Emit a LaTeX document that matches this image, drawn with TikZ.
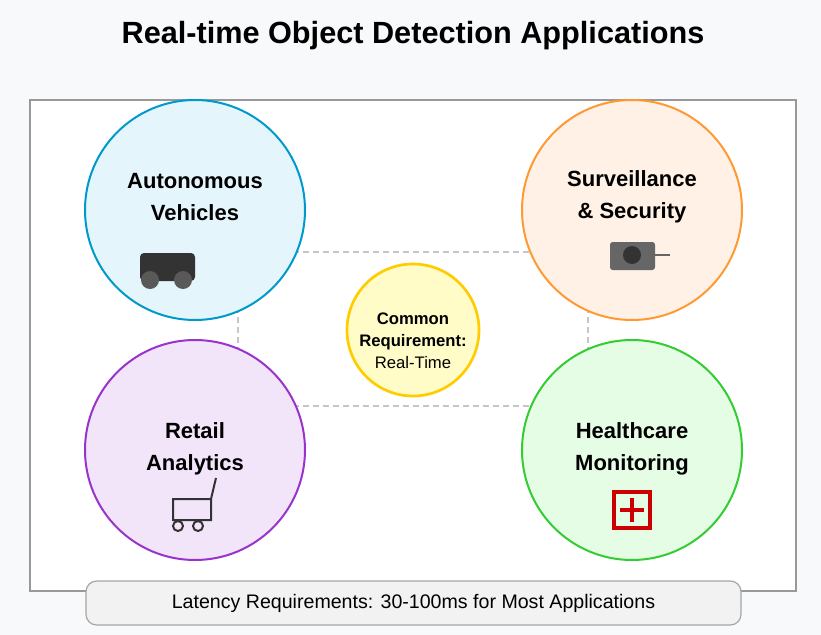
\documentclass[tikz,border=0pt]{standalone}
\usepackage{fontspec}
\setmainfont{Liberation Sans}
\usetikzlibrary{positioning}

\definecolor{pagebg}{HTML}{F8F9FA}
\definecolor{avline}{HTML}{0099CC}
\definecolor{avfill}{HTML}{E5F5FC}
\definecolor{ssline}{HTML}{FF9933}
\definecolor{ssfill}{HTML}{FFF1E5}
\definecolor{raline}{HTML}{9933CC}
\definecolor{rafill}{HTML}{F2E5FA}
\definecolor{hmline}{HTML}{33CC33}
\definecolor{hmfill}{HTML}{E5FCE5}
\definecolor{crline}{HTML}{FFCC00}
\definecolor{crfill}{HTML}{FFFCC8}

\tikzset{
  app/.style={circle, minimum size=220*0.75pt, line width=1.5pt, inner sep=0pt},
  applabel/.style={font=\fontsize{16.5}{24}\selectfont\bfseries, align=center},
  link/.style={draw=gray!45, line width=1.2pt, dash pattern=on 4.5pt off 3pt}
}

\begin{document}
\begin{tikzpicture}[x=0.75pt, y=-0.75pt]
  \fill[pagebg] (0,0) rectangle (821,635);
  \useasboundingbox (0,0) rectangle (821,635);
  \node[font=\fontsize{23}{27}\selectfont\bfseries] (title) at (413,36) {Real-time Object Detection Applications};
  \draw[gray!80, line width=1.2pt, fill=white] (30,100) rectangle (796,591);

  % dashed links
  \coordinate (l1) at (283,252); \coordinate (r1) at (540,252);
  \coordinate (l2) at (283,406); \coordinate (r2) at (540,406);
  \coordinate (t1) at (238,297); \coordinate (b1) at (238,357);
  \coordinate (t2) at (588,297); \coordinate (b2) at (588,357);
  \begin{scope}[link]
    \draw (l1) -- (r1);
    \draw (l2) -- (r2);
    \draw (t1) -- (b1);
    \draw (t2) -- (b2);
  \end{scope}

  % applications
  \node[app, draw=avline, fill=avfill] (av) at (195,210) {};
  \node[app, draw=ssline, fill=ssfill] (ss) at (632,210) {};
  \node[app, draw=raline, fill=rafill] (ra) at (195,450) {};
  \node[app, draw=hmline, fill=hmfill] (hm) at (632,450) {};
  \node[applabel] at (195,197) {Autonomous\\Vehicles};
  \node[applabel] at (632,197) {Surveillance\\\& Security};
  \node[applabel] at (195,449) {Retail\\Analytics};
  \node[applabel] at (632,449) {Healthcare\\Monitoring};

  % center
  \node[circle, minimum size=132*0.75pt, draw=crline, fill=crfill, line width=2pt,
        inner sep=0pt] (req) at (413,330) {};
  \node[align=center, font=\fontsize{12.5}{16.5}\selectfont] (reqtext) at (413,341)
        {\bfseries Common\\\bfseries Requirement:\\Real-Time};

  % icons
  \fill[black!80, rounded corners=3pt] (140,253) rectangle (195,281);
  \fill[black!65] (150,280) circle (9) (183,280) circle (9);
  \fill[black!60, rounded corners=2pt] (610,242) rectangle (655,270);
  \fill[black!80] (632,255) circle (9);
  \draw[black!60, line width=2pt] (655,255) -- (670,255);
  \begin{scope}[draw=black!80, line width=1.5pt]
    \draw (211,499) -- (173,499) -- (173,520) -- (211,520) -- (211,499) -- (216,478);
    \draw (178,526) circle (5) (198,526) circle (5);
  \end{scope}
  \draw[red!80!black, line width=2.5pt] (614,492) rectangle (650,528);
  \draw[red!80!black, line width=2.8pt] (620,510) -- (644,510) (632,498) -- (632,522);

  % bottom note
  \node[draw=gray!70, fill=black!5, rounded corners=8pt, line width=0.9pt,
        minimum width=655*0.75pt, minimum height=44*0.75pt,
        font=\fontsize{14.7}{17}\selectfont] (note) at (413.5,603)
        {Latency Requirements: 30-100ms for Most Applications};
\end{tikzpicture}
\end{document}
